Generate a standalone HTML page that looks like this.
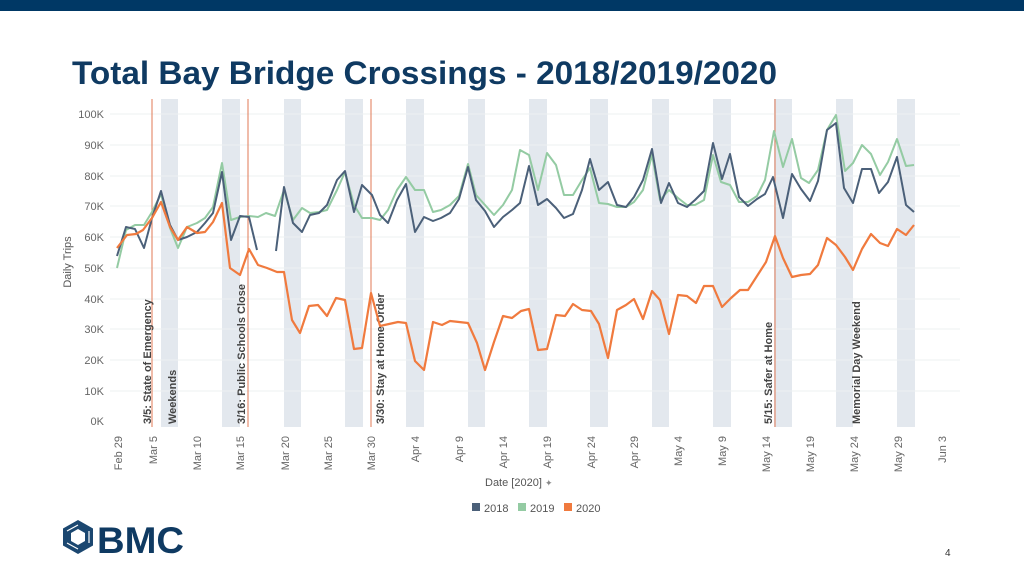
<!DOCTYPE html>
<html><head><meta charset="utf-8"><style>
html,body{margin:0;padding:0;background:#fff;}
svg{display:block;font-family:"Liberation Sans",sans-serif;}
</style></head><body>
<svg width="1024" height="576" viewBox="0 0 1024 576" xmlns="http://www.w3.org/2000/svg">
<rect x="0" y="0" width="1024" height="11" fill="#003865"/>
<text x="72" y="84" font-size="32" font-weight="bold" fill="#0f3a62" textLength="705" lengthAdjust="spacingAndGlyphs">Total Bay Bridge Crossings - 2018/2019/2020</text>

<!-- weekend bands -->
<g fill="#e3e8ee">
<rect x="161" y="99" width="17" height="328"/>
<rect x="222" y="99" width="18" height="328"/>
<rect x="284" y="99" width="17" height="328"/>
<rect x="345" y="99" width="18" height="328"/>
<rect x="406" y="99" width="18" height="328"/>
<rect x="468" y="99" width="17" height="328"/>
<rect x="529" y="99" width="18" height="328"/>
<rect x="590" y="99" width="18" height="328"/>
<rect x="652" y="99" width="17" height="328"/>
<rect x="713" y="99" width="18" height="328"/>
<rect x="774" y="99" width="18" height="328"/>
<rect x="836" y="99" width="17" height="328"/>
<rect x="897" y="99" width="18" height="328"/>
</g>
<!-- gridlines -->
<g stroke="#eef0f2" stroke-width="1">
<line x1="110" x2="960" y1="114" y2="114"/><line x1="110" x2="960" y1="145" y2="145"/>
<line x1="110" x2="960" y1="176" y2="176"/><line x1="110" x2="960" y1="206" y2="206"/>
<line x1="110" x2="960" y1="237" y2="237"/><line x1="110" x2="960" y1="268" y2="268"/>
<line x1="110" x2="960" y1="299" y2="299"/><line x1="110" x2="960" y1="329" y2="329"/>
<line x1="110" x2="960" y1="360" y2="360"/><line x1="110" x2="960" y1="391" y2="391"/>
</g>
<!-- y labels -->
<g font-size="11" fill="#666" text-anchor="end">
<text x="104" y="118">100K</text><text x="104" y="149">90K</text><text x="104" y="180">80K</text>
<text x="104" y="210">70K</text><text x="104" y="241">60K</text><text x="104" y="272">50K</text>
<text x="104" y="303">40K</text><text x="104" y="333">30K</text><text x="104" y="364">20K</text>
<text x="104" y="395">10K</text><text x="104" y="425">0K</text>
</g>
<text transform="translate(71,262) rotate(-90)" font-size="11" fill="#555" text-anchor="middle">Daily Trips</text>
<!-- x labels -->
<g font-size="11" fill="#666" text-anchor="end">
<text transform="translate(122,436) rotate(-90)">Feb 29</text>
<text transform="translate(157,436) rotate(-90)">Mar 5</text>
<text transform="translate(201,436) rotate(-90)">Mar 10</text>
<text transform="translate(244,436) rotate(-90)">Mar 15</text>
<text transform="translate(289,436) rotate(-90)">Mar 20</text>
<text transform="translate(332,436) rotate(-90)">Mar 25</text>
<text transform="translate(375,436) rotate(-90)">Mar 30</text>
<text transform="translate(419,436) rotate(-90)">Apr 4</text>
<text transform="translate(463,436) rotate(-90)">Apr 9</text>
<text transform="translate(507,436) rotate(-90)">Apr 14</text>
<text transform="translate(551,436) rotate(-90)">Apr 19</text>
<text transform="translate(595,436) rotate(-90)">Apr 24</text>
<text transform="translate(638,436) rotate(-90)">Apr 29</text>
<text transform="translate(682,436) rotate(-90)">May 4</text>
<text transform="translate(726,436) rotate(-90)">May 9</text>
<text transform="translate(770,436) rotate(-90)">May 14</text>
<text transform="translate(814,436) rotate(-90)">May 19</text>
<text transform="translate(858,436) rotate(-90)">May 24</text>
<text transform="translate(902,436) rotate(-90)">May 29</text>
<text transform="translate(946,436) rotate(-90)">Jun 3</text>
</g>
<!-- event lines -->
<g stroke="#e07a55" stroke-width="1">
<line x1="152" x2="152" y1="99" y2="427"/><line x1="248" x2="248" y1="99" y2="427"/>
<line x1="371" x2="371" y1="99" y2="427"/><line x1="775" x2="775" y1="99" y2="427"/>
</g>
<g font-size="11" font-weight="bold" fill="#444">
<text transform="translate(151,424) rotate(-90)">3/5: State of Emergency</text>
<text transform="translate(176,424) rotate(-90)">Weekends</text>
<text transform="translate(245,424) rotate(-90)">3/16: Public Schools Close</text>
<text transform="translate(384,424) rotate(-90)">3/30: Stay at Home Order</text>
<text transform="translate(772,424) rotate(-90)">5/15: Safer at Home</text>
<text transform="translate(860,424) rotate(-90)">Memorial Day Weekend</text>
</g>
<!-- 2019 -->
<polyline fill="none" stroke="#94cba3" stroke-width="2" stroke-linejoin="round" points="117,268 126,230 135,225 144,225 152,212 161,194 170,228 178,248 187,227 197,223 205,218 213,207 222,163 231,220 240,217 249,216 258,217 266,213 275,216 284,190 293,220 302,208 310,213 319,212 327,210 337,190 345,172 354,205 362,218 372,218 380,220 388,210 397,190 406,177 415,190 424,190 433,212 441,210 450,205 459,196 468,164 476,195 485,205 494,215 503,205 512,190 520,150 529,155 538,190 547,153 556,165 564,195 573,195 582,180 590,168 599,203 608,204 617,207 626,207 634,202 643,190 652,155 660,200 669,190 678,198 687,205 695,205 704,200 713,155 721,182 730,185 739,202 748,202 757,196 765,180 774,131 783,167 792,139 801,178 809,183 818,170 827,130 836,115 845,171 853,163 862,145 871,154 880,175 888,162 897,139 906,166 914,165"/>
<!-- 2018 -->
<polyline fill="none" stroke="#4b6079" stroke-width="2" stroke-linejoin="round" points="117,256 126,227 135,229 144,248 152,218 161,191 170,225 178,240 187,237 197,232 205,223 213,213 222,172 231,240 240,216 249,217 257,250"/>
<polyline fill="none" stroke="#4b6079" stroke-width="2" stroke-linejoin="round" points="276,251 284,187 293,223 302,232 310,215 319,213 327,205 337,180 345,171 354,212 362,185 372,195 380,215 388,223 397,200 406,184 415,232 424,217 433,221 441,218 450,213 459,199 468,167 476,200 485,211 494,227 503,217 512,210 520,203 529,166 538,205 547,199 556,208 564,218 573,214 582,190 590,159 599,190 608,182 617,205 626,207 634,197 643,180 652,149 661,203 669,183 678,203 687,207 695,200 704,191 713,143 722,179 730,154 739,197 748,206 757,199 765,194 773,177 783,218 792,174 801,189 810,201 818,181 827,130 836,123 844,188 853,203 862,169 871,169 879,193 888,182 897,157 906,205 914,212"/>
<!-- 2020 -->
<polyline fill="none" stroke="#f07a3e" stroke-width="2.2" stroke-linejoin="round" points="117,248 127,235 136,234 143,230 152,218 161,202 170,227 178,240 187,227 197,233 205,232 213,222 222,203 230,268 240,275 249,249 258,265 267,268 277,272 284,272 292,320 300,333 309,306 318,305 327,316 336,298 345,300 354,349 362,348 371,293 380,326 389,324 398,322 406,323 415,361 424,370 433,322 442,325 450,321 459,322 468,323 477,343 485,370 494,342 503,316 512,318 521,311 529,309 538,350 547,349 556,315 565,316 573,304 582,310 591,311 599,324 608,358 617,310 626,305 634,299 643,319 652,291 660,300 669,334 678,295 687,296 696,303 704,286 713,286 722,307 731,298 740,290 748,290 757,276 766,262 775,236 783,258 792,277 801,275 810,274 818,265 827,238 836,245 845,257 853,270 862,249 871,234 880,243 888,246 897,229 906,235 914,225"/>

<text x="485" y="486" font-size="11" fill="#555">Date [2020] <tspan font-size="9" fill="#888">✦</tspan></text>
<g font-size="11" fill="#555">
<rect x="472" y="503" width="8" height="8" fill="#4b6079"/><text x="484" y="512">2018</text>
<rect x="518" y="503" width="8" height="8" fill="#94cba3"/><text x="530" y="512">2019</text>
<rect x="564" y="503" width="8" height="8" fill="#f07a3e"/><text x="576" y="512">2020</text>
</g>

<!-- BMC logo -->
<g transform="translate(78,537)">
<polygon points="0,-17 15,-8.5 15,8.5 0,17 -15,8.5 -15,-8.5" fill="#1b4770"/>
<polygon points="0,-8 7,-4 7,4 0,8 -7,4 -7,-4" fill="#fff"/>
<path d="M-11,-6 L0,-12 M11,-6 L11,6 M0,12 L-11,6" stroke="#fff" stroke-width="1.2"/>
</g>
<text x="97" y="553" font-size="37" font-weight="bold" fill="#0f3a62" textLength="87" lengthAdjust="spacingAndGlyphs">BMC</text>
<text x="945" y="556" font-size="10" fill="#333">4</text>
</svg>
</body></html>
